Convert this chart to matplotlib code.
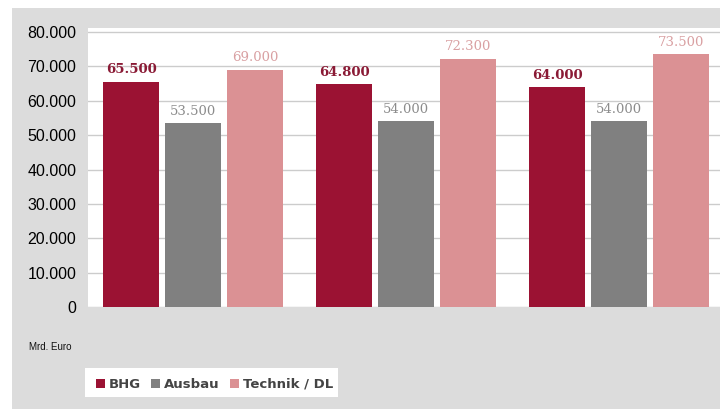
import numpy as np
import matplotlib.pyplot as plt
from matplotlib.patches import Rectangle
from matplotlib.ticker import FuncFormatter

# data
groups = ['1', '2', '3']
series = ['BHG', 'Ausbau', 'Technik / DL']
bhg = [65500, 64800, 64000]
ausbau = [53500, 54000, 54000]
technik = [69000, 72300, 73500]

COLORS = ['#9b1233', '#808080', '#db9194']
LABEL_COLORS = ['#8a1a35', '#8c8c8c', '#d9a0a2']
LABEL_WEIGHT = ['bold', 'normal', 'normal']

W, H = 720, 409
fig = plt.figure(figsize=(W / 100, H / 100), dpi=100)
fig.patch.set_facecolor('white')
# grey panel behind everything
bg = Rectangle((12 / W, 0), 1, (H - 8) / H,
               transform=fig.transFigure, facecolor='#dcdcdc',
               edgecolor='none', zorder=-10)
fig.add_artist(bg)

ax = fig.add_axes([88 / W, (H - 307) / H, 1 - 88 / W, (307 - 28) / H])
ax.set_facecolor('white')
ax.set_zorder(1)

x = np.arange(len(groups))
width = 0.262
offset = 0.291
for i, vals in enumerate([bhg, ausbau, technik]):
    pos = x + (i - 1) * offset
    bars = ax.bar(pos, vals, width, color=COLORS[i], zorder=3)
    for b, v in zip(bars, vals):
        txt = f'{v:,}'.replace(',', '.')
        ax.annotate(txt, (b.get_x() + b.get_width() / 2, v),
                    xytext=(0, 4), textcoords='offset points',
                    ha='center', va='bottom', fontsize=9.5,
                    family='DejaVu Serif', color=LABEL_COLORS[i],
                    weight=LABEL_WEIGHT[i])

ax.set_xlim(-0.493, 2.474)
ax.set_ylim(0, 81200)
ax.set_yticks(np.arange(0, 80001, 10000))
ax.yaxis.set_major_formatter(FuncFormatter(lambda v, p: f'{int(v):,}'.replace(',', '.')))
ax.set_xticks([])
ax.tick_params(axis='y', length=0, pad=8.5, labelsize=11.5, labelcolor='black')
for lbl in ax.get_yticklabels():
    lbl.set_family('Liberation Sans')
ax.grid(axis='y', color='#cccccc', linewidth=1, zorder=0)
ax.set_axisbelow(True)
for s in ax.spines.values():
    s.set_visible(False)

fig.text(29 / W, 1 - 347 / H, 'Mrd. Euro', fontsize=7, family='Liberation Sans',
         va='center', ha='left', color='#111111')

# hand-made legend so all labels sit on one baseline
fig.add_artist(Rectangle((85 / W, 1 - 397 / H), (338 - 85) / W, 29 / H,
                         transform=fig.transFigure, facecolor='white',
                         edgecolor='none', zorder=2))
renderer = fig.canvas.get_renderer()
cx = 96
yc = 383
for name, col in zip(series, COLORS):
    fig.add_artist(Rectangle((cx / W, 1 - (yc + 4.5) / H), 9 / W, 9 / H,
                             transform=fig.transFigure, facecolor=col,
                             edgecolor='none', zorder=3))
    t = fig.text((cx + 13) / W, 1 - (yc + 4.5) / H, name, fontsize=9.5,
                 family='DejaVu Sans', weight='semibold', color='#444444',
                 va='baseline', ha='left', zorder=3)
    cx += 13 + t.get_window_extent(renderer).width + 10

fig.savefig('out.png', dpi=100)
